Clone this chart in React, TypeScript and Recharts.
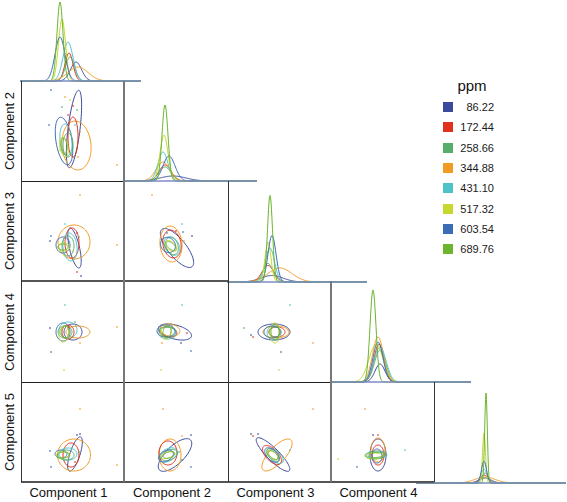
import React from "react";
import {
  ComposedChart,
  LineChart,
  Line,
  Scatter,
  XAxis,
  YAxis,
  ReferenceLine,
} from "recharts";

// ppm levels and their colours
const LEVELS = ["86.22", "172.44", "258.66", "344.88", "431.10", "517.32", "603.54", "689.76"];
const COLORS = ["#3b4a9c", "#e0301e", "#58ad6c", "#f29b22", "#4ec4c9", "#c5d82b", "#3a6db5", "#6bb52f"];
const COMPONENTS = ["Component 1", "Component 2", "Component 3", "Component 4", "Component 5"];

// diagonal densities, one row per level: [mean, sd, peak]
const DENS_C1 = [[56, 5.5, 19], [49, 4, 28], [50, 4.5, 24], [58, 10, 14], [48, 5, 39], [42, 3.5, 62], [40, 5, 44], [40, 3, 79]];
const DENS_C2 = [[49, 13, 5], [41, 6, 16], [41, 6, 14], [39, 7, 19], [39, 5, 29], [40, 4, 46], [45, 6, 25], [41, 3, 76]];
const DENS_C3 = [[45, 11, 6.5], [41, 6, 16.5], [41, 5, 18.5], [53, 12, 14], [43, 4.5, 34], [41, 3, 40], [45, 4, 46.5], [43, 2.5, 86.5]];
const DENS_C4 = [[49, 5, 18], [48, 5, 38], [49, 5.5, 32], [47, 5.5, 45], [49, 6, 35], [45, 7, 38], [47, 5, 40], [42, 3, 92]];
const DENS_C5 = [[69, 6, 5], [68, 4, 8], [69, 3, 10], [69, 10, 6], [68, 3, 14], [68, 1.5, 50], [68, 2.5, 22], [70, 1.3, 90]];

// covariance ellipses per pair: [level, cx, cy, semi-axis a, semi-axis b, angle deg]
const ELL_2_1 = [[0, 53, 52, 39, 6, 83], [3, 55.5, 35.5, 24.5, 14.5, 95], [6, 43, 40, 24, 8, 99], [1, 52, 44, 20, 5, 90], [4, 45, 41, 16, 6, 95], [2, 47, 36, 12, 5, 90], [5, 43, 34, 10, 4, 100], [7, 43, 35, 8, 3, 95]];
const ELL_3_1 = [[0, 53.5, 33, 20.5, 5, 103], [3, 53, 39, 17, 16, 90], [6, 42, 36, 8, 7, 90], [1, 51, 38, 15, 7, 90], [4, 49, 34, 14, 7, 95], [2, 47, 35, 10, 6, 90], [5, 43, 34, 6, 4, 0], [7, 42, 34, 5, 3, 0]];
const ELL_3_2 = [[0, 53, 33, 24, 9, -51], [3, 47, 37, 18, 11, 95], [1, 48, 37, 14, 9, 100], [4, 48, 35, 10, 7, 120], [2, 48, 35, 9, 6, 110], [5, 47, 35, 7, 4, 140], [6, 44, 36, 8, 7, 130], [7, 47, 35, 6, 3, 140]];
const ELL_4_1 = [[0, 52, 50, 9, 8, 0], [3, 57, 50, 12, 6, 0], [6, 42, 50, 9, 7, 90], [4, 47, 52, 9, 8, 0], [1, 47, 50, 7, 6, 90], [2, 44, 50, 7, 6, 0], [5, 43, 48, 8, 5, 80], [7, 44, 50, 6, 4, 90]];
const ELL_4_2 = [[0, 51, 50, 17, 7, -15], [3, 46, 52, 10, 6, -10], [1, 44, 50, 9, 5, -10], [4, 43, 49, 9, 6, -5], [2, 44, 50, 8, 5, 0], [5, 42, 50, 7, 5, 80], [6, 42, 51, 9, 6, 0], [7, 43, 50, 6, 4, 80]];
const ELL_4_3 = [[0, 46, 50, 16, 8, 0], [3, 48, 50, 13, 6, 0], [1, 49, 50, 8, 5, 0], [4, 46, 49, 7, 7, 0], [2, 47, 50, 6, 5, 0], [5, 47, 49, 10, 5, 90], [6, 44, 50, 8, 6, 0], [7, 47, 50, 8, 4, 90]];
const ELL_5_1 = [[0, 54, 28, 18, 5, 72], [3, 53, 27, 16.5, 16, 0], [1, 50, 27, 12, 8, 90], [6, 40, 28, 6, 4, 0], [4, 47, 28, 9, 6, 0], [2, 45, 27, 8, 5, 0], [5, 42, 27, 7, 3, 0], [7, 42, 27, 6, 3, 5]];
const ELL_5_2 = [[0, 51, 27, 21.6, 9, 44], [3, 46, 27, 16, 11, 90], [1, 44, 29, 12, 9, 90], [4, 44, 27, 10, 6, 30], [2, 45, 27, 9, 5, 20], [5, 44, 27, 7, 3, 20], [6, 42, 26, 8, 5, 30], [7, 45, 27, 6, 3, 15]];
const ELL_5_3 = [[0, 45, 27.5, 23, 6, -45], [3, 49, 27, 20.5, 8, 47], [1, 44, 27, 12, 6, -45], [4, 47, 26, 10, 5, -40], [2, 45, 27, 8, 4, -45], [5, 45, 27, 7, 3, -35], [6, 44, 27, 9, 5, -45], [7, 45, 27, 6, 3, -40]];
const ELL_5_4 = [[0, 47, 27, 16, 8, 90], [3, 47, 32, 12, 7, 90], [1, 47, 27, 10, 6, 90], [4, 45, 27, 11, 3, 0], [2, 45, 27, 10, 4, 5], [5, 43, 26, 9, 3, 0], [6, 46, 26, 7, 5, 90], [7, 45, 27, 8, 2.5, 5]];

// observations per pair: [level, x, y]
const PTS_2_1 = [[6, 30, 91], [3, 96, 16], [3, 44, 84], [2, 56, 71], [1, 52, 75], [6, 28, 56], [5, 49, 81], [2, 41, 74], [1, 47, 66], [4, 54, 56], [3, 59, 49], [3, 57, 24], [5, 39, 31]];
const PTS_3_1 = [[3, 59, 86], [4, 44, 57], [6, 30, 45], [0, 29, 40], [3, 96, 36], [1, 56, 48], [1, 56, 9], [0, 60, 5], [2, 58, 44], [5, 52, 30]];
const PTS_3_2 = [[3, 28, 86], [4, 58, 57], [6, 59, 49], [0, 68, 45], [6, 43, 48], [1, 52, 50], [3, 60, 40]];
const PTS_4_1 = [[4, 44, 77], [0, 29, 54], [3, 96, 55], [6, 30, 30], [5, 43, 12], [3, 59, 39], [2, 54, 60], [1, 48, 55]];
const PTS_4_2 = [[4, 58, 77], [6, 67, 31], [0, 57, 39], [5, 37, 12], [3, 38, 39], [1, 63, 49], [2, 48, 56]];
const PTS_4_3 = [[4, 62, 77], [0, 23, 47], [1, 25, 45], [6, 53, 30], [3, 85, 39], [5, 51, 12], [2, 16, 54], [3, 60, 52]];
const PTS_5_1 = [[3, 59, 73], [0, 59, 48], [0, 56, 47], [6, 29, 31], [6, 30, 15], [3, 96, 17], [2, 58, 30], [1, 54, 20]];
const PTS_5_2 = [[3, 39, 73], [3, 58, 46], [0, 67, 47], [6, 67, 15], [6, 58, 22], [2, 55, 30]];
const PTS_5_3 = [[3, 85, 73], [0, 23, 48], [1, 25, 46], [0, 30, 48], [4, 62, 32], [2, 50, 24]];
const PTS_5_4 = [[3, 34, 73], [5, 7, 23], [6, 26, 15], [4, 74, 32], [0, 42, 47], [1, 47, 47], [2, 55, 28]];

const FONT = "'Liberation Sans', Arial, sans-serif";

// layout of the grid
const COL_X = [21, 124, 228, 331, 434];
const ROW_Y = [81, 181, 281, 382, 482];

const DIAG = [
  { params: DENS_C1, left: 20, width: 121, base: 81, height: 81 },
  { params: DENS_C2, left: 124, width: 133, base: 181, height: 100 },
  { params: DENS_C3, left: 227, width: 140, base: 281.5, height: 100 },
  { params: DENS_C4, left: 331, width: 140, base: 382, height: 100 },
  { params: DENS_C5, left: 416, width: 150, base: 482.7, height: 100 },
];

const CELLS = [
  { row: 0, col: 0, ell: ELL_2_1, pts: PTS_2_1 },
  { row: 1, col: 0, ell: ELL_3_1, pts: PTS_3_1 },
  { row: 1, col: 1, ell: ELL_3_2, pts: PTS_3_2 },
  { row: 2, col: 0, ell: ELL_4_1, pts: PTS_4_1 },
  { row: 2, col: 1, ell: ELL_4_2, pts: PTS_4_2 },
  { row: 2, col: 2, ell: ELL_4_3, pts: PTS_4_3 },
  { row: 3, col: 0, ell: ELL_5_1, pts: PTS_5_1 },
  { row: 3, col: 1, ell: ELL_5_2, pts: PTS_5_2 },
  { row: 3, col: 2, ell: ELL_5_3, pts: PTS_5_3 },
  { row: 3, col: 3, ell: ELL_5_4, pts: PTS_5_4 },
];

function densityRows(params: number[][], width: number) {
  const rows: any[] = [];
  for (let x = 0; x <= width; x += 0.5) {
    const row: any = { x };
    params.forEach(([m, s, h], i) => {
      row["s" + i] = h * Math.exp(-0.5 * ((x - m) / s) ** 2);
    });
    rows.push(row);
  }
  return rows;
}

function ellipse(cx: number, cy: number, a: number, b: number, deg: number) {
  const th = (deg * Math.PI) / 180;
  const out = [];
  for (let k = 0; k <= 72; k++) {
    const t = (k * 2 * Math.PI) / 72;
    out.push({
      x: cx + a * Math.cos(t) * Math.cos(th) - b * Math.sin(t) * Math.sin(th),
      y: cy + a * Math.cos(t) * Math.sin(th) + b * Math.sin(t) * Math.cos(th),
    });
  }
  return out;
}

function Density({ params, left, width, base, height }: any) {
  const rows = densityRows(params, width);
  return (
    <div style={{ position: "absolute", left, top: base - height }}>
      <LineChart width={width} height={height + 2} data={rows} margin={{ top: 0, right: 0, bottom: 2, left: 0 }}>
        <XAxis type="number" dataKey="x" domain={[0, width]} hide />
        <YAxis type="number" domain={[0, height]} hide />
        {params.map((_: any, i: number) => (
          <Line
            key={i}
            type="linear"
            dataKey={"s" + i}
            stroke={COLORS[i]}
            strokeWidth={1}
            dot={false}
            isAnimationActive={false}
          />
        ))}
        <ReferenceLine y={0} stroke="#7c8cc4" strokeWidth={1.5} />
      </LineChart>
    </div>
  );
}

function PairCell({ row, col, ell, pts }: any) {
  const left = COL_X[col];
  const top = ROW_Y[row];
  const width = COL_X[col + 1] - left;
  const height = ROW_Y[row + 1] - top;
  const points = pts.map(([lv, x, y]: number[]) => ({ x, y, lv }));
  return (
    <div style={{ position: "absolute", left, top }}>
      <ComposedChart width={width} height={height} margin={{ top: 0, right: 0, bottom: 0, left: 0 }}>
        <XAxis type="number" dataKey="x" domain={[0, width]} hide />
        <YAxis type="number" dataKey="y" domain={[0, height]} hide />
        {ell.map(([lv, cx, cy, a, b, ang]: number[], i: number) => (
          <Line
            key={i}
            data={ellipse(cx, cy, a, b, ang)}
            type="linear"
            dataKey="y"
            stroke={COLORS[lv]}
            strokeWidth={1}
            dot={false}
            isAnimationActive={false}
          />
        ))}
        <Scatter
          data={points}
          isAnimationActive={false}
          shape={(p: any) => (
            <rect
              x={p.cx - 0.8}
              y={p.cy - 0.8}
              width={1.6}
              height={1.6}
              fill={COLORS[p.payload.lv]}
              fillOpacity={0.8}
            />
          )}
        />
      </ComposedChart>
    </div>
  );
}

function HLine({ x1, x2, y, color, w }: any) {
  return <div style={{ position: "absolute", left: x1, top: y - w / 2, width: x2 - x1, height: w, background: color }} />;
}

function VLine({ x, y1, y2, color, w }: any) {
  return <div style={{ position: "absolute", left: x - w / 2, top: y1, width: w, height: y2 - y1, background: color }} />;
}

export default function App() {
  return (
    <div style={{ position: "absolute", left: 0, top: 0, width: 567, height: 502, background: "#fff", fontFamily: FONT }}>
      {DIAG.map((d, i) => (
        <Density key={i} {...d} />
      ))}
      {CELLS.map((c, i) => (
        <PairCell key={i} {...c} />
      ))}

      {/* frame lines */}
      <HLine x1={21} x2={124} y={181} color="#222" w={1} />
      <HLine x1={21} x2={228} y={281} color="#555" w={1.5} />
      <HLine x1={21} x2={331} y={382} color="#222" w={1} />
      <HLine x1={21} x2={434} y={482} color="#555" w={1.5} />
      <VLine x={21} y1={81} y2={482} color="#333" w={1} />
      <VLine x={124} y1={81} y2={482} color="#777" w={2} />
      <VLine x={228} y1={181} y2={482} color="#333" w={1} />
      <VLine x={331} y1={281} y2={482} color="#777" w={2} />
      <VLine x={434} y1={382} y2={482} color="#333" w={1} />

      {/* bottom labels */}
      {COMPONENTS.slice(0, 4).map((name, i) => (
        <div
          key={name}
          style={{
            position: "absolute",
            left: COL_X[i] - 4,
            width: COL_X[i + 1] - COL_X[i],
            top: 485,
            textAlign: "center",
            fontSize: 13,
            lineHeight: "16px",
            color: "#111",
            whiteSpace: "nowrap",
          }}
        >
          {name}
        </div>
      ))}

      {/* left labels */}
      {COMPONENTS.slice(1).map((name, i) => {
        const cy = (ROW_Y[i] + ROW_Y[i + 1]) / 2;
        return (
          <div
            key={name}
            style={{
              position: "absolute",
              left: 10 - 50,
              top: cy - 8,
              width: 100,
              height: 16,
              textAlign: "center",
              fontSize: 13,
              lineHeight: "16px",
              color: "#111",
              whiteSpace: "nowrap",
              transform: "rotate(-90deg)",
            }}
          >
            {name}
          </div>
        );
      })}

      {/* legend */}
      <div style={{ position: "absolute", left: 448, top: 77, width: 48, textAlign: "center", fontSize: 15, lineHeight: "18px", color: "#111" }}>
        ppm
      </div>
      {LEVELS.map((lv, i) => {
        const cy = 107 + i * 20.3;
        return (
          <React.Fragment key={lv}>
            <div style={{ position: "absolute", left: 443, top: cy - 5, width: 10, height: 10, background: COLORS[i] }} />
            <div
              style={{
                position: "absolute",
                left: 454,
                width: 40,
                top: cy - 7,
                textAlign: "right",
                fontSize: 11,
                lineHeight: "14px",
                color: "#1a1a22",
              }}
            >
              {lv}
            </div>
          </React.Fragment>
        );
      })}
    </div>
  );
}
